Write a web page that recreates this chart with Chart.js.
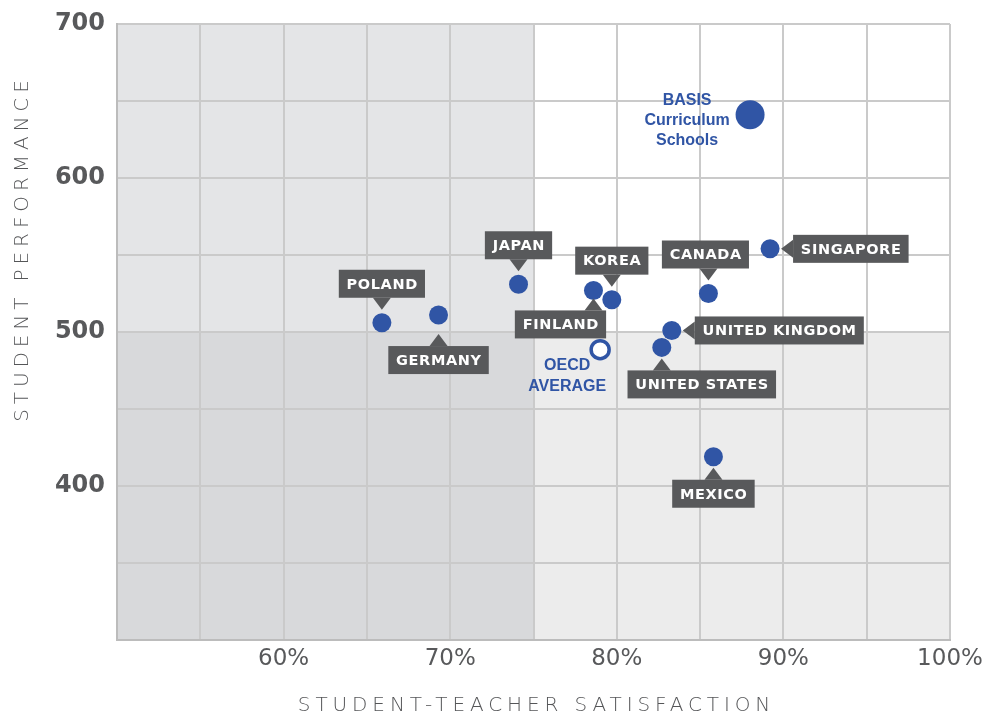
<!DOCTYPE html>
<html>
<head>
<meta charset="utf-8">
<script src="https://cdn.jsdelivr.net/npm/chart.js@4.4.1/dist/chart.umd.min.js"></script>
<style>
    body { margin: 0; background: #fff; }
    #wrap { width: 985px; height: 719px; position: relative; }
</style>
</head>
<body>
<div id="wrap"><canvas id="scatter"></canvas></div>
<script>
// data
const countries = ['Poland', 'Germany', 'Japan', 'Finland', 'Korea', 'Canada', 'Singapore', 'United Kingdom', 'United States', 'Mexico'];
const satisfaction = [65.9, 69.3, 74.1, 78.6, 79.7, 85.5, 89.2, 83.3, 82.7, 85.8];
const performance = [506, 511, 531, 527, 521, 525, 554, 501, 490, 419];

const basisLabel = ['BASIS', 'Curriculum', 'Schools'];
const basisSatisfaction = [88.0];
const basisPerformance = [641];

const oecdLabel = ['OECD', 'AVERAGE'];
const oecdSatisfaction = [79.0];
const oecdPerformance = [488.5];

const xTickValues = [60, 70, 80, 90, 100];
const xTickLabels = ['60%', '70%', '80%', '90%', '100%'];
const yTickValues = [400, 500, 600, 700];
const yTickLabels = ['400', '500', '600', '700'];

const xTitle = 'STUDENT-TEACHER SATISFACTION';
const yTitle = 'STUDENT PERFORMANCE';

// label placement per country (style only)
const labelSide = ['top', 'bottom', 'top', 'bottom', 'top', 'top', 'right', 'right', 'bottom', 'bottom'];
const labelGap = [25, 31, 25, 20, 25, 25, 23, 23, 23, 23];
const labelShift = [0, 0, 0, -33, 0, -3, 0, 0, 40, 0];

var blue = '#3055a5',
    boxColor = '#58595b';

function toPoints(xs, ys) {
    return xs.map((x, i) => ({ x: x, y: ys[i] }));
}

// quadrant shading behind the grid
const quadrants = {
    id: 'quadrants',
    beforeDraw(chart) {
        const { ctx, chartArea: a, scales } = chart;
        const mx = scales.x.getPixelForValue(75);
        const my = scales.y.getPixelForValue(500);
        ctx.save();
        ctx.fillStyle = '#e4e5e7';
        ctx.fillRect(a.left, a.top, mx - a.left, my - a.top);
        ctx.fillStyle = '#d8d9db';
        ctx.fillRect(a.left, my, mx - a.left, a.bottom - my);
        ctx.fillStyle = '#ffffff';
        ctx.fillRect(mx, a.top, a.right - mx, my - a.top);
        ctx.fillStyle = '#ececec';
        ctx.fillRect(mx, my, a.right - mx, a.bottom - my);
        ctx.restore();
    }
};

// dark callout boxes + blue annotations
const callouts = {
    id: 'callouts',
    afterDatasetsDraw(chart) {
        const ctx = chart.ctx;
        const pts = chart.getDatasetMeta(0).data;
        ctx.save();
        ctx.font = 'bold 14.5px "DejaVu Sans"';
        ctx.letterSpacing = '0.6px';
        ctx.textAlign = 'center';
        ctx.textBaseline = 'middle';
        pts.forEach((p, i) => {
            const text = countries[i].toUpperCase();
            const w = ctx.measureText(text).width + 15, h = 28;
            const side = labelSide[i], gap = labelGap[i];
            let bx, by;
            ctx.fillStyle = boxColor;
            ctx.beginPath();
            if (side === 'top') {
                by = p.y - gap - h;
                bx = p.x + labelShift[i] - w / 2;
                ctx.moveTo(p.x - 9, by + h);
                ctx.lineTo(p.x, by + h + 12);
                ctx.lineTo(p.x + 9, by + h);
            } else if (side === 'bottom') {
                by = p.y + gap;
                bx = p.x + labelShift[i] - w / 2;
                ctx.moveTo(p.x - 9, by);
                ctx.lineTo(p.x, by - 12);
                ctx.lineTo(p.x + 9, by);
            } else {
                bx = p.x + gap;
                by = p.y - h / 2;
                ctx.moveTo(bx, p.y - 9);
                ctx.lineTo(bx - 12, p.y);
                ctx.lineTo(bx, p.y + 9);
            }
            ctx.closePath();
            ctx.fill();
            ctx.fillRect(bx, by, w, h);
            ctx.fillStyle = '#fff';
            ctx.fillText(text, bx + w / 2 + 0.3, by + h / 2 + 1);
        });

        ctx.letterSpacing = '0px';
        ctx.font = 'bold 16px "Liberation Sans"';
        ctx.fillStyle = blue;
        const b = chart.getDatasetMeta(1).data[0];
        basisLabel.forEach((t, k) => ctx.fillText(t, b.x - 63, b.y - 14.5 + k * 20));
        const o = chart.getDatasetMeta(2).data[0];
        oecdLabel.forEach((t, k) => ctx.fillText(t, o.x - 33, o.y + 16 + k * 21));
        ctx.restore();
    }
};

// axis titles (letter-spaced, like the original)
const axisTitles = {
    id: 'axisTitles',
    afterDraw(chart) {
        const ctx = chart.ctx;
        const a = chart.chartArea;
        ctx.save();
        ctx.fillStyle = '#555658';
        ctx.font = '300 20px "DejaVu Sans"';
        ctx.textAlign = 'center';
        ctx.textBaseline = 'middle';
        ctx.letterSpacing = '4.9px';
        ctx.fillText(xTitle, 536.5, 706);
        ctx.translate(23, 248.5);
        ctx.rotate(-Math.PI / 2);
        ctx.fillText(yTitle, 0, 0);
        ctx.restore();
    }
};

var gridColor = '#cacaca';

new Chart(document.getElementById('scatter'), {
    type: 'scatter',
    data: {
        datasets: [
            {
                label: 'Countries',
                data: toPoints(satisfaction, performance),
                backgroundColor: blue,
                borderWidth: 0,
                pointRadius: 9.5,
                pointHoverRadius: 9.5
            },
            {
                label: 'BASIS Curriculum Schools',
                data: toPoints(basisSatisfaction, basisPerformance),
                backgroundColor: blue,
                borderWidth: 0,
                pointRadius: 14.5,
                pointHoverRadius: 14.5
            },
            {
                label: 'OECD Average',
                data: toPoints(oecdSatisfaction, oecdPerformance),
                backgroundColor: '#fff',
                borderColor: blue,
                borderWidth: 3.5,
                pointRadius: 9,
                pointHoverRadius: 9
            }
        ]
    },
    options: {
        responsive: true,
        maintainAspectRatio: false,
        animation: false,
        layout: { padding: { top: 24, right: 35, left: 0, bottom: 0 } },
        plugins: {
            legend: { display: false },
            tooltip: { enabled: false }
        },
        scales: {
            x: {
                type: 'linear',
                min: 50,
                max: 100,
                afterFit: function (s) {
                    s.height = 79;
                    s.paddingLeft = 0;
                    s.paddingRight = 0;
                },
                grid: { color: gridColor, lineWidth: 2, drawTicks: false },
                border: { color: '#bcbcbc', width: 2 },
                ticks: {
                    stepSize: 5,
                    padding: 5,
                    color: '#58595b',
                    font: { family: 'DejaVu Sans', size: 23 },
                    maxRotation: 0,
                    autoSkip: false,
                    callback: function (v) {
                        var i = xTickValues.indexOf(v);
                        return i >= 0 ? xTickLabels[i] : '';
                    }
                }
            },
            y: {
                type: 'linear',
                min: 300,
                max: 700,
                afterFit: function (s) {
                    s.width = 117;
                    s.paddingTop = 0;
                    s.paddingBottom = 0;
                },
                grid: { color: gridColor, lineWidth: 2, drawTicks: false },
                border: { color: '#bcbcbc', width: 2 },
                ticks: {
                    stepSize: 50,
                    padding: 12,
                    color: '#58595b',
                    font: { family: 'DejaVu Sans', size: 24, weight: 'bold' },
                    autoSkip: false,
                    callback: function (v) {
                        var i = yTickValues.indexOf(v);
                        return i >= 0 ? yTickLabels[i] : '';
                    }
                }
            }
        }
    },
    plugins: [quadrants, callouts, axisTitles]
});
</script>
</body>
</html>
